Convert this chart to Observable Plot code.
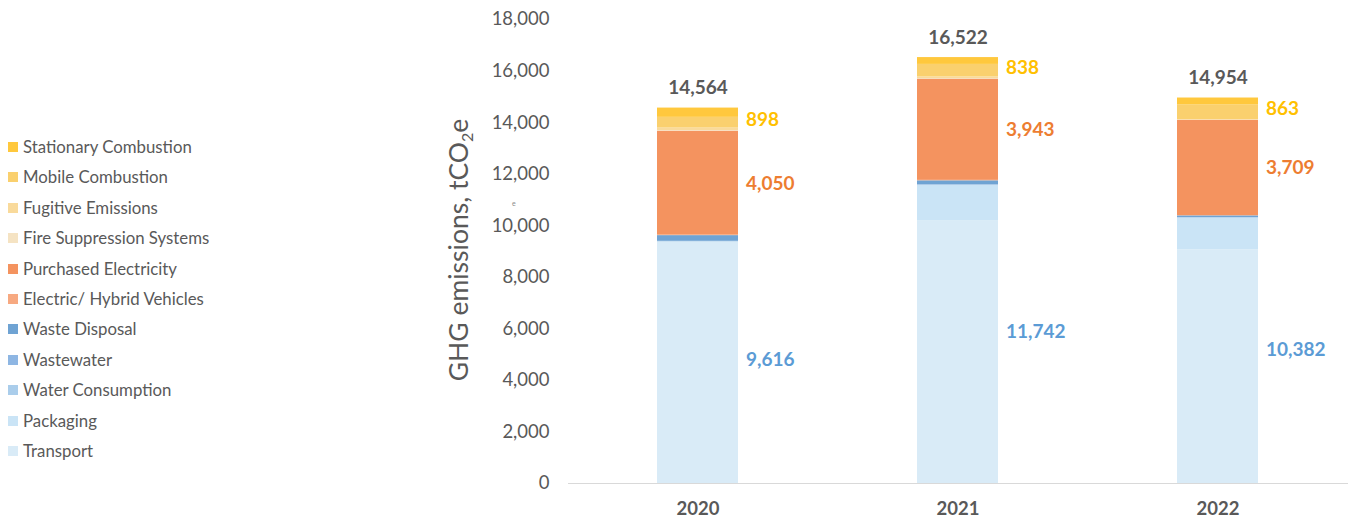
<!DOCTYPE html>
<html>
<head>
<meta charset="utf-8">
<script src="https://cdn.jsdelivr.net/npm/d3@7"></script>
<script src="https://cdn.jsdelivr.net/npm/@observablehq/plot@0.6"></script>
<style>
  html, body { margin: 0; padding: 0; background: #fff; }
  #wrap { position: relative; width: 1354px; height: 525px; font-family: Lato, "Open Sans", sans-serif; color: #595959; }
  #chart { position: absolute; left: 0; top: 0; }
  #legend { position: absolute; left: 8px; top: 0; }
  .li { position: absolute; left: 0; white-space: nowrap; font-size: 16.8px; line-height: 20px; height: 20px; }
  .li span.sw { position: absolute; left: 0; top: 5px; width: 10px; height: 10px; }
  .li span.tx { position: absolute; left: 15px; top: 0; }
  #ylab { position: absolute; left: 458px; top: 250px; transform: translate(-50%, -50%) rotate(-90deg); font-size: 26.5px; white-space: nowrap; color: #595959; }
  #ylab sub { font-size: 16px; vertical-align: -5px; line-height: 0; }
  #tinye { position: absolute; left: 512px; top: 199px; font-size: 7px; color: #8c8c8c; }
</style>
</head>
<body>
<div id="wrap">
  <div id="chart"></div>
  <div id="legend"></div>
  <div id="ylab">GHG emissions, tCO<sub>2</sub>e</div>
  <div id="tinye">e</div>
</div>
<script>
// ---- data ----
const years = ["2020", "2021", "2022"];
// series listed bottom-to-top in the stack
const seriesNames = [
  "Transport", "Packaging", "Water Consumption", "Wastewater", "Waste Disposal",
  "Electric/ Hybrid Vehicles", "Purchased Electricity",
  "Fire Suppression Systems", "Fugitive Emissions", "Mobile Combustion", "Stationary Combustion"
];
const transport = [9370, 10200, 9070];
const packaging = [0, 1350, 1220];
const waterConsumption = [15, 25, 15];
const wastewater = [10, 15, 10];
const wasteDisposal = [221, 152, 67];
const electricHybridVehicles = [20, 18, 14];
const purchasedElectricity = [4030, 3925, 3695];
const fireSuppression = [23, 18, 6];
const fugitiveEmissions = [100, 70, 22];
const mobileCombustion = [415, 485, 565];
const stationaryCombustion = [360, 265, 270];
const totals = [14564, 16522, 14954];
const scope3Labels = [9616, 11742, 10382];
const electricityLabels = [4050, 3943, 3709];
const combustionLabels = [898, 838, 863];
const yTicks = [0, 2000, 4000, 6000, 8000, 10000, 12000, 14000, 16000, 18000];

const seriesColors = [
  "#D9EBF7", "#CAE4F6", "#AACDEB", "#8EB6E3", "#6FA3D3",
  "#F7A981", "#F4935F",
  "#F5E3C3", "#F9DA9B", "#FAD06E", "#FFC83D"
];

// ---- build table ----
const valuesBySeries = [
  transport, packaging, waterConsumption, wastewater, wasteDisposal,
  electricHybridVehicles, purchasedElectricity,
  fireSuppression, fugitiveEmissions, mobileCombustion, stationaryCombustion
];
const rows = [];
seriesNames.forEach((s, si) => {
  years.forEach((y, yi) => rows.push({year: y, series: s, value: valuesBySeries[si][yi]}));
});

// group label rows at midpoints of each group segment
const groups = [
  {idx: [0,1,2,3,4], labels: scope3Labels, color: "#5B9BD5"},
  {idx: [5,6], labels: electricityLabels, color: "#ED7D31"},
  {idx: [7,8,9,10], labels: combustionLabels, color: "#FFC000"}
];
const groupLabels = [];
years.forEach((y, yi) => {
  let base = 0;
  groups.forEach(g => {
    const sum = g.idx.reduce((a, i) => a + valuesBySeries[i][yi], 0);
    groupLabels.push({year: y, y: base + sum / 2, text: d3.format(",")(g.labels[yi]), color: g.color});
    base += sum;
  });
});
const totalRows = years.map((y, yi) => ({
  year: y,
  top: valuesBySeries.reduce((a, arr) => a + arr[yi], 0),
  text: d3.format(",")(totals[yi])
}));

const fmt = d3.format(",");
const chart = Plot.plot({
  width: 1354,
  height: 525,
  marginLeft: 568,
  marginRight: 6,
  marginTop: 19,
  marginBottom: 42,
  style: {fontFamily: "Lato, 'Open Sans', sans-serif", color: "#595959", background: "transparent"},
  x: {domain: years, paddingInner: 0.688, paddingOuter: 0.344, align: 0.5, label: null},
  y: {domain: [0, 18000], label: null},
  color: {domain: seriesNames, range: seriesColors},
  marks: [
    Plot.barY(rows, {x: "year", y: "value", fill: "series", order: seriesNames}),
    Plot.ruleY([0], {stroke: "#D9D9D9", strokeWidth: 1}),
    Plot.axisY({ticks: yTicks, tickFormat: fmt, tickSize: 0, tickPadding: 19, fontSize: 18.5, label: null}),
    Plot.axisX({tickSize: 0, tickPadding: 18, fontSize: 18.5, fontWeight: "bold", fill: "#595959", label: null}),
    Plot.text(totalRows, {x: "year", y: "top", text: "text", dy: -20, fontSize: 19, fontWeight: "bold", fill: "#595959"}),
    Plot.text(groupLabels, {x: "year", y: "y", text: "text", dx: 48, textAnchor: "start", fontSize: 19, fontWeight: "bold", fill: "color"})
  ]
});
document.getElementById("chart").appendChild(chart);

// ---- legend (top to bottom = reverse stack order) ----
const legend = document.getElementById("legend");
const legendOrder = seriesNames.map((s, i) => ({s, c: seriesColors[i]})).reverse();
legendOrder.forEach((d, i) => {
  const el = document.createElement("div");
  el.className = "li";
  el.style.top = (147 - 10 + i * 30.4) + "px";
  el.innerHTML = `<span class="sw" style="background:${d.c}"></span><span class="tx">${d.s}</span>`;
  legend.appendChild(el);
});
</script>
</body>
</html>
